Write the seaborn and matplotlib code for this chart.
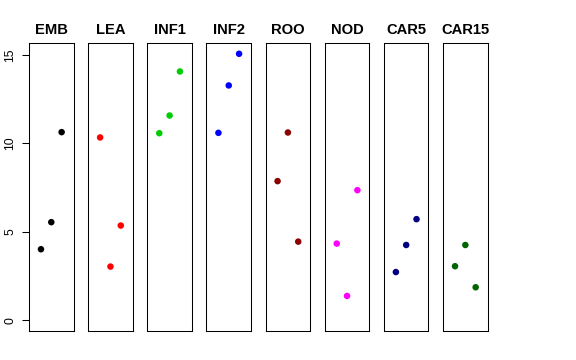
import matplotlib
matplotlib.use("Agg")
import matplotlib.pyplot as plt
import seaborn as sns
import pandas as pd

tissues = ["EMB", "LEA", "INF1", "INF2", "ROO", "NOD", "CAR5", "CAR15"]
replicates = [1, 2, 3]
emb = [4.02, 5.55, 10.64]
lea = [10.34, 3.04, 5.36]
inf1 = [10.58, 11.58, 14.07]
inf2 = [10.60, 13.28, 15.07]
roo = [7.87, 10.62, 4.45]
nod = [4.34, 1.38, 7.36]
car5 = [2.73, 4.26, 5.72]
car15 = [3.06, 4.26, 1.87]
colors = ["#000000", "#FF0000", "#00CD00", "#0000FF", "#8B0000", "#FF00FF", "#000080", "#006400"]
yticks = [0, 5, 10, 15]

values = [emb, lea, inf1, inf2, roo, nod, car5, car15]
rows = []
for t, vals in zip(tissues, values):
    for r, v in zip(replicates, vals):
        rows.append({"tissue": t, "rep": r, "value": v})
df = pd.DataFrame(rows)

sns.set_style("white")
plt.rcParams["font.family"] = ["Liberation Sans", "DejaVu Sans"]
plt.rcParams["text.color"] = "black"
plt.rcParams["ytick.color"] = "black"
plt.rcParams["ytick.labelcolor"] = "black"

W, H = 576, 360
fig = plt.figure(figsize=(W / 100, H / 100), dpi=100)
ymax = 15.06
yr = (0 - 0.04 * ymax, ymax * 1.04)
xr = (-0.16, 4.16)
left0, pw, step = 29, 44.6, 59.15
top, bottom = 43.3, 331
for i, t in enumerate(tissues):
    ax = fig.add_axes([(left0 + i * step) / W, 1 - bottom / H, pw / W, (bottom - top) / H])
    sub = df[df.tissue == t]
    sns.scatterplot(data=sub, x="rep", y="value", ax=ax, color=colors[i], s=22,
                    edgecolor="none", linewidth=0, legend=False)
    ax.set_xlim(*xr)
    ax.set_ylim(*yr)
    ax.set_xticks([])
    ax.set_xlabel("")
    ax.set_ylabel("")
    for sp in ax.spines.values():
        sp.set_visible(True)
        sp.set_color("black")
        sp.set_linewidth(0.75)
    ax.set_title(t, fontsize=10.6, fontweight="bold", pad=7, color="black")
    if i == 0:
        ax.set_yticks(yticks)
        ax.set_yticklabels([str(v) for v in yticks], rotation=90, va="center", fontsize=8.8,
                           color="black")
        ax.tick_params(axis="y", left=True, length=5, width=0.75, pad=4, color="black")
    else:
        ax.set_yticks([])

fig.savefig("out.png", dpi=100, facecolor="white")
